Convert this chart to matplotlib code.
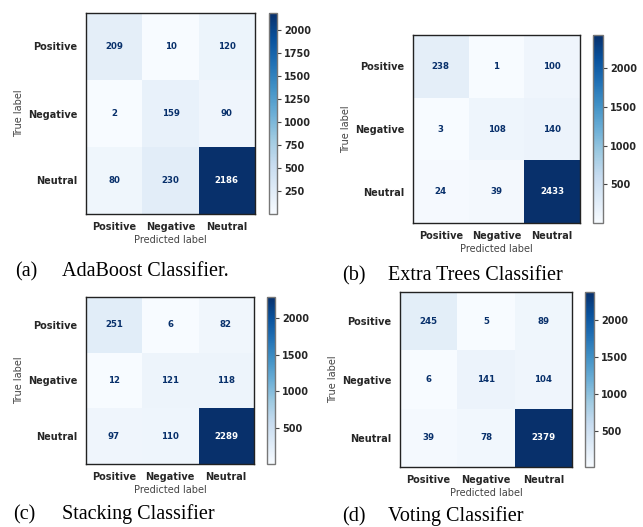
import numpy as np
import matplotlib
matplotlib.use("Agg")
import matplotlib.pyplot as plt

classes = ["Positive", "Negative", "Neutral"]

cm_adaboost = [[209, 10, 120],
               [2, 159, 90],
               [80, 230, 2186]]
cm_extra_trees = [[238, 1, 100],
                  [3, 108, 140],
                  [24, 39, 2433]]
cm_stacking = [[251, 6, 82],
               [12, 121, 118],
               [97, 110, 2289]]
cm_voting = [[245, 5, 89],
             [6, 141, 104],
             [39, 78, 2379]]

panel_tags = ["(a)", "(b)", "(c)", "(d)"]
panel_names = ["AdaBoost Classifier.", "Extra Trees Classifier",
               "Stacking Classifier", "Voting Classifier"]

cbar_ticks = [[250, 500, 750, 1000, 1250, 1500, 1750, 2000],
              [500, 1000, 1500, 2000],
              [500, 1000, 1500, 2000],
              [500, 1000, 1500, 2000]]

W, H = 643, 527
fig = plt.figure(figsize=(W / 100, H / 100), dpi=100)

def px_rect(x0, y0, x1, y1):
    return [x0 / W, 1 - y1 / H, (x1 - x0) / W, (y1 - y0) / H]

# pixel boxes: matrix, colorbar; caption tag x, name x, baseline y
layout = [
    dict(mat=(86, 13, 255, 214), cb=(269, 13, 277, 214), cap=(15, 62, 276)),
    dict(mat=(413, 35, 580, 223), cb=(593, 35, 603, 223), cap=(342, 388, 280)),
    dict(mat=(86, 297, 254, 464), cb=(267, 297, 275, 464), cap=(13, 62, 519)),
    dict(mat=(400, 292, 572, 467), cb=(585, 292, 594, 467), cap=(342, 388, 521)),
]

cmap = plt.get_cmap("Blues")
matrices = [cm_adaboost, cm_extra_trees, cm_stacking, cm_voting]

for cm, lay, tag, name, ticks in zip(matrices, layout, panel_tags,
                                     panel_names, cbar_ticks):
    cm = np.array(cm)
    ax = fig.add_axes(px_rect(*lay["mat"]))
    im = ax.imshow(cm, cmap=cmap, aspect="auto", vmin=cm.min(), vmax=cm.max())
    thresh = (cm.max() + cm.min()) / 2.0
    for i in range(3):
        for j in range(3):
            color = "white" if cm[i, j] > thresh else cmap(1.0)
            ax.text(j, i, str(cm[i, j]), ha="center", va="center",
                    fontsize=6.2, fontweight="bold", color=color)
    ax.set_xticks(range(3))
    ax.set_yticks(range(3))
    ax.set_xticklabels(classes, fontsize=7, fontweight="bold", color="#262626")
    ax.set_yticklabels(classes, fontsize=7, fontweight="bold", color="#262626")
    ax.tick_params(length=0, pad=6)
    ax.set_xlabel("Predicted label", fontsize=7, color="#444444", labelpad=2)
    ax.set_ylabel("True label", fontsize=7, color="#444444", labelpad=3)
    for s in ax.spines.values():
        s.set_color("#222222")
        s.set_linewidth(1.0)

    cax = fig.add_axes(px_rect(*lay["cb"]))
    cb = fig.colorbar(im, cax=cax)
    cb.set_ticks(ticks)
    cb.ax.tick_params(labelsize=7, length=3, width=0.8, color="#444444", pad=2)
    for t in cb.ax.get_yticklabels():
        t.set_fontweight("bold")
        t.set_color("#262626")
    cb.outline.set_edgecolor("#777777")
    cb.outline.set_linewidth(1.0)

    tx, nx, by = lay["cap"]
    fig.text(tx / W, 1 - by / H, tag, fontsize=14.5, family="Liberation Serif",
             ha="left", va="baseline", color="black")
    fig.text(nx / W, 1 - by / H, name, fontsize=14.5, family="Liberation Serif",
             ha="left", va="baseline", color="black")

fig.savefig("out.png", dpi=100, facecolor="white")
